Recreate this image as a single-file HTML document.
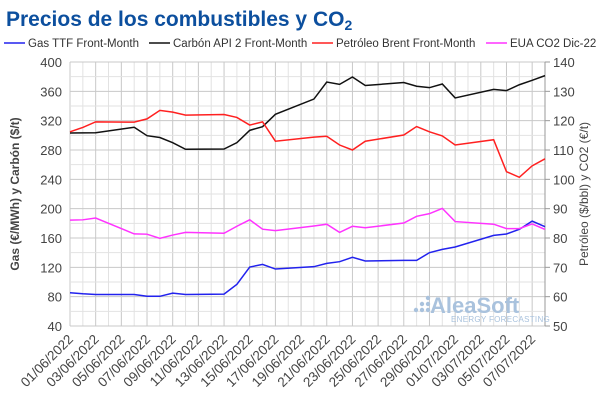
<!DOCTYPE html>
<html><head><meta charset="utf-8"><style>
body{margin:0;background:#fff;}
svg{display:block;font-family:"Liberation Sans",sans-serif;}
</style></head><body>
<svg id="chart" width="600" height="416" xmlns="http://www.w3.org/2000/svg">
<text x="6" y="26" font-size="21" font-weight="bold" fill="#0c4f9e">Precios de los combustibles y CO<tspan font-size="14" dy="4">2</tspan></text>
<g id="legend" font-size="11.5" fill="#333"></g>
<g id="grid"></g>
<g id="axes" font-size="13" fill="#444"></g>
<g fill="#a9c2dd">
<text x="430" y="313" font-size="22" font-weight="bold">AleaSoft</text>
<text x="451" y="322" font-size="8" letter-spacing="0.3">ENERGY FORECASTING</text>
<circle cx="416" cy="310" r="2.2"/><circle cx="422" cy="310" r="2.2"/><circle cx="422" cy="304" r="2.2"/><circle cx="428" cy="310" r="2.2"/><circle cx="428" cy="304" r="2.2"/><circle cx="428" cy="298" r="2.2"/>
</g>
<g id="series"></g>
<text transform="translate(19,194) rotate(-90)" text-anchor="middle" font-size="12" font-weight="bold" fill="#444">Gas (€/MWh) y Carbón ($/t)</text>
<text transform="translate(588,194) rotate(-90)" text-anchor="middle" font-size="12" fill="#444">Petróleo ($/bbl) y CO2 (€/t)</text>
</svg>
<script>
const days=[0,1,2,5,6,7,8,9,12,13,14,15,16,19,20,21,22,23,26,27,28,29,30,33,34,35,36,37];
const gas=[85.4,84,83,83,80.5,80.5,84.8,83,83.5,96.8,120.4,124,117.7,120.9,125.4,127.7,133.7,128.6,129.5,129.5,140,144.5,147.7,163.6,165.5,171.8,183,175.4];
const coal=[303.2,303.3,303.5,311,299.5,297,290,281,281.3,290,306.8,311.8,328.7,349.5,372.7,369.5,379.5,368,372,367,365,370,351,362.7,361,369,375,381.4];
const brent=[116.2,117.7,119.6,119.5,120.6,123.5,122.9,121.9,122.1,121.1,118.5,119.6,113,114.4,114.7,111.7,110,113,115.1,118,116.2,114.8,111.7,113.5,102.6,100.7,104.6,107];
const co2=[86.1,86.2,86.8,81.4,81.3,79.9,81,81.9,81.6,84,86.2,83,82.5,84.1,84.7,81.9,84,83.5,85.1,87.4,88.3,90.1,85.6,84.7,83.2,83.2,84.8,82.9];
const leftTicks=[40,80,120,160,200,240,280,320,360,400];
const rightTicks=[50,60,70,80,90,100,110,120,130,140];
const xLabels=["01/06/2022","03/06/2022","05/06/2022","07/06/2022","09/06/2022","11/06/2022","13/06/2022","15/06/2022","17/06/2022","19/06/2022","21/06/2022","23/06/2022","25/06/2022","27/06/2022","29/06/2022","01/07/2022","03/07/2022","05/07/2022","07/07/2022"];
const legendNames=["Gas TTF Front-Month","Carbón API 2 Front-Month","Petróleo Brent Front-Month","EUA CO2 Dic-22"];
const colors=["#2222ee","#111111","#ff2020","#ff33ff"];
const NS="http://www.w3.org/2000/svg";
const X0=70,X1=545,Y0=326,Y1=62,ND=37;
const x=d=>X0+(X1-X0)*d/ND;
const yl=v=>Y0-(v-40)/360*(Y0-Y1);
const yr=v=>Y0-(v-50)/90*(Y0-Y1);
function mk(t,a,p){const e=document.createElementNS(NS,t);for(const k in a)e.setAttribute(k,a[k]);p.appendChild(e);return e;}
const grid=document.getElementById('grid');
for(let d=0;d<=ND;d++){const l=mk('line',{x1:x(d),x2:x(d),y1:Y1,y2:Y0,stroke:d%2==0?'#c8c8c8':'#e2e2e2','stroke-width':1},grid);

}
for(let v=40;v<=400;v+=20){const l=mk('line',{x1:X0,x2:X1,y1:yl(v),y2:yl(v),stroke:v%40==0?'#c8c8c8':'#e2e2e2','stroke-width':1},grid);

}
const axes=document.getElementById('axes');
mk('line',{x1:X1,x2:X1,y1:Y1,y2:Y0,stroke:'#999'},axes);
leftTicks.forEach(v=>{const t=mk('text',{x:X0-8,y:yl(v)+5,'text-anchor':'end'},axes);t.textContent=v;

});
rightTicks.forEach(v=>{mk('line',{x1:X1,x2:X1+5,y1:yr(v),y2:yr(v),stroke:'#999'},axes);const t=mk('text',{x:X1+8,y:yr(v)+5},axes);t.textContent=v;

});
xLabels.forEach((s,i)=>{const px=x(i*2)+4,py=Y0+14;const t=mk('text',{x:px,y:py,'text-anchor':'end',transform:`rotate(-45 ${px} ${py})`,'font-size':13.5},axes);t.textContent=s;

});
const series=document.getElementById('series');
const sets=[[gas,yl],[coal,yl],[brent,yr],[co2,yr]];
const names=['gas-line','coal-line','brent-line','co2-line'];
sets.forEach(([vals,f],i)=>{const p=mk('polyline',{points:vals.map((v,j)=>x(days[j])+','+f(v)).join(' '),fill:'none',stroke:colors[i],'stroke-width':1.5},series);

});
const lg=document.getElementById('legend');
const lx=[4,149,312,486];
legendNames.forEach((n,i)=>{mk('line',{x1:lx[i],x2:lx[i]+21,y1:43,y2:43,stroke:colors[i],'stroke-width':1.5},lg);const t=mk('text',{x:lx[i]+24,y:47},lg);t.textContent=n;

});
</script>
</body></html>
